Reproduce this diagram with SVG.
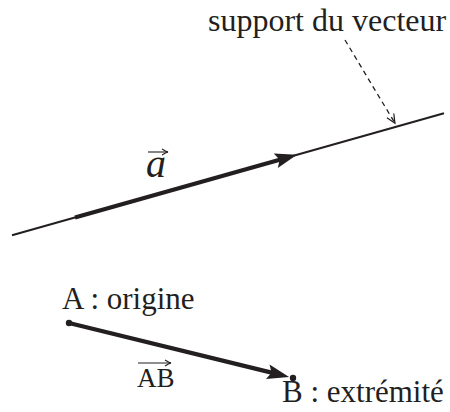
<svg xmlns="http://www.w3.org/2000/svg" width="450" height="412" viewBox="0 0 450 412">
  <style>
    text { font-family: "Liberation Serif", "Times New Roman", serif; fill: #231f20; }
    .lbl { font-size: 31px; }
    .thin { stroke: #231f20; stroke-width: 2; fill: none; }
    .thick { stroke: #231f20; stroke-width: 4.2; fill: none; stroke-linecap: butt; }
    .dash { stroke: #231f20; stroke-width: 1.3; fill: none; stroke-dasharray: 5 4; }
    .vec { stroke: #231f20; stroke-width: 1.1; fill: none; }
  </style>
  <defs>
    <marker id="head" markerUnits="userSpaceOnUse" viewBox="-6 -8 25 16" markerWidth="25" markerHeight="16" refX="0" refY="0" orient="auto" overflow="visible">
      <path d="M17,0 L-5,-7.5 L-1,0 L-5,7.5 Z" fill="#231f20"/>
    </marker>
    <marker id="open" markerUnits="userSpaceOnUse" viewBox="-12 -6 14 12" markerWidth="14" markerHeight="12" refX="0" refY="0" orient="auto" overflow="visible">
      <path d="M-9,-4 L0,0 L-9,4 M-6,-2.5 L0,0" fill="none" stroke="#231f20" stroke-width="1.2"/>
    </marker>
    <marker id="vhead" markerUnits="userSpaceOnUse" viewBox="-8 -4 10 8" markerWidth="10" markerHeight="8" refX="0" refY="0" orient="auto" overflow="visible">
      <path d="M-6,-3 Q-2,-0.5 0,0 Q-2,0.5 -6,3" fill="none" stroke="#231f20" stroke-width="1.1"/>
    </marker>
  </defs>

  <g id="connectors">
    <line id="support-line" class="thin" x1="12" y1="235.3" x2="444" y2="113.3"/>
    <line id="vector-a" class="thick" x1="75" y1="217.5" x2="280.6" y2="159.4" marker-end="url(#head)"/>
    <line id="pointer" class="dash" x1="345" y1="40" x2="395" y2="123.3" marker-end="url(#open)"/>
    <line id="vector-AB" class="thick" x1="69" y1="323" x2="272.6" y2="372.9" marker-end="url(#head)"/>
  </g>

  <g id="label-support">
    <text x="208" y="31" font-size="32">support du vecteur</text>
  </g>

  <g id="label-a">
    <text x="146" y="177" font-size="40" font-style="italic">a</text>
    <line class="vec" x1="148" y1="152" x2="168" y2="152" marker-end="url(#vhead)"/>
  </g>

  <g id="point-A">
    <circle cx="69" cy="323" r="3.2" fill="#231f20"/>
    <text class="lbl" x="62" y="309">A : origine</text>
  </g>

  <g id="label-AB">
    <text x="137" y="387" font-size="27">AB</text>
    <line class="vec" x1="138" y1="363" x2="171" y2="363" marker-end="url(#vhead)"/>
  </g>

  <g id="point-B">
    <circle cx="293" cy="378" r="3.2" fill="#231f20"/>
    <text class="lbl" x="282" y="402">B : extrémité</text>
  </g>
</svg>
